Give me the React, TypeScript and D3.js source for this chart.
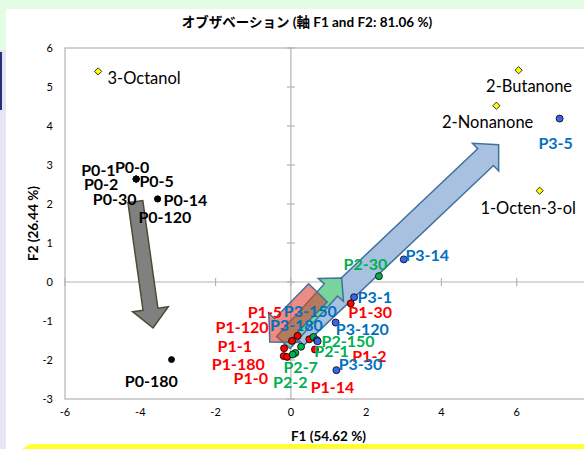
import React from "react";
import * as d3 from "d3";

// ---- data ----
const xTicks = [-6, -4, -2, 0, 2, 4, 6];
const yTicks = [-3, -2, -1, 0, 1, 2, 3, 4, 5, 6];

const p0Names = ["P0-0", "P0-1", "P0-2", "P0-5", "P0-30", "P0-14", "P0-120", "P0-180"];
const p0X = [-4.11, -4.11, -4.11, -4.11, -4.11, -3.54, -3.54, -3.17];
const p0Y = [2.64, 2.64, 2.64, 2.64, 2.64, 2.13, 2.13, -1.99];

const p1Names = ["P1-5", "P1-120", "P1-1", "P1-180", "P1-0", "P1-2", "P1-14", "P1-30"];
const p1X = [0.18, 0.03, -0.18, -0.19, -0.1, 0.64, 0.49, 1.59];
const p1Y = [-1.38, -1.51, -1.7, -1.9, -1.92, -1.73, -1.47, -0.55];

const p2Names = ["P2-30", "P2-150", "P2-1", "P2-7", "P2-2"];
const p2X = [2.34, 0.6, 0.27, 0.12, 0.05];
const p2Y = [0.15, -1.41, -1.66, -1.82, -1.86];

const p3Names = ["P3-5", "P3-14", "P3-1", "P3-120", "P3-30", "P3-150", "P3-180"];
const p3X = [7.14, 3.0, 1.68, 1.19, 1.21, 0.69, 0.71];
const p3Y = [4.19, 0.58, -0.39, -1.04, -2.26, -1.49, -1.52];

const varNames = ["3-Octanol", "2-Butanone", "2-Nonanone", "1-Octen-3-ol"];
const varX = [-5.12, 6.05, 5.46, 6.61];
const varY = [5.4, 5.43, 4.52, 2.34];

// trend arrows (data units): from -> to  (P0 gray, P3 blue, P2 green, P1 red)
const arrowFromX = [-4.13, 0.13, -0.2, 0.72];
const arrowFromY = [2.06, -1.41, -1.55, -0.28];
const arrowToX = [-3.66, 5.52, 1.35, -0.56];
const arrowToY = [-1.18, 3.52, 0.1, -1.54];

// ---- layout / style ----
const labelOffsets: Record<string, [number, number]> = {
  "P0-0": [-4, -12.6], "P0-1": [-37.7, -9.3], "P0-5": [20.5, 1.7], "P0-2": [-35, 4.7],
  "P0-30": [-21.5, 19.7], "P0-14": [27.8, 0.7], "P0-120": [7.3, 17.7], "P0-180": [-20.2, 20.7],
  "P1-5": [-32.7, -24], "P1-120": [-50, -14.7], "P1-1": [-49.3, -2.6], "P1-180": [-45.4, 7],
  "P1-0": [-36.3, 21], "P1-2": [54.5, 5.7], "P1-14": [23.2, 46.7], "P1-30": [19.5, 7.7],
  "P2-30": [-13.5, -13], "P2-150": [34.6, 3.7], "P2-1": [30.5, 4], "P2-7": [5.3, 13.3], "P2-2": [-2.5, 26.7],
  "P3-5": [-4, 24], "P3-14": [23.5, -5.3], "P3-1": [20.7, -0.6], "P3-120": [26.6, 6], "P3-30": [24.1, -7],
  "P3-150": [-6.5, -29.3], "P3-180": [-21.2, -16.7],
  "3-Octanol": [46, 7], "2-Butanone": [10.5, 15.3], "2-Nonanone": [-8.7, 16], "1-Octen-3-ol": [-11.5, 17],
};

const groups = [
  { names: p0Names, xs: p0X, ys: p0Y, fill: "#000000", text: "#000000", r: 3 },
  { names: p1Names, xs: p1X, ys: p1Y, fill: "#ff0000", text: "#ff0000", r: 3.5 },
  { names: p2Names, xs: p2X, ys: p2Y, fill: "#00b050", text: "#00b050", r: 3.5 },
  { names: p3Names, xs: p3X, ys: p3Y, fill: "#3a66e6", text: "#0070c0", r: 3.5 },
];

const arrowStyles = [
  { fill: "#808080", stroke: "#4e4b33", opacity: 1, sw: 15, hw: 36, hl: 19 },
  { fill: "#a9c1e0", stroke: "#41719c", opacity: 1, sw: 23, hw: 38, hl: 18 },
  { fill: "#78d49c", stroke: "#41719c", opacity: 1, sw: 18, hw: 34, hl: 16 },
  { fill: "#e0402f", stroke: "#41719c", opacity: 0.6, sw: 26, hw: 42, hl: 20 },
];

const W = 584, H = 449;
const x = d3.scaleLinear().domain([-6, 8]).range([65, 592]);
const y = d3.scaleLinear().domain([-3, 6]).range([399, 48]);

function arrowPath(x0: number, y0: number, x1: number, y1: number, sw: number, hw: number, hl: number) {
  const dx = x1 - x0, dy = y1 - y0, len = Math.hypot(dx, dy);
  const ux = dx / len, uy = dy / len, nx = -uy, ny = ux;
  const bx = x1 - ux * hl, by = y1 - uy * hl;
  const pts: [number, number][] = [
    [x0 + nx * sw / 2, y0 + ny * sw / 2],
    [bx + nx * sw / 2, by + ny * sw / 2],
    [bx + nx * hw / 2, by + ny * hw / 2],
    [x1, y1],
    [bx - nx * hw / 2, by - ny * hw / 2],
    [bx - nx * sw / 2, by - ny * sw / 2],
    [x0 - nx * sw / 2, y0 - ny * sw / 2],
  ];
  return d3.line()(pts) + "Z";
}

const FONT = "Lato, 'Noto Sans CJK JP', sans-serif";

export default function App() {
  const x0 = x(0), y0 = y(0);
  return (
    <svg width={W} height={H} style={{ position: "absolute", left: 0, top: 0 }} fontFamily={FONT}>
      <rect x={0} y={0} width={W} height={H} fill="#e4fbe4" />
      <rect x={0} y={50} width={6} height={H - 50} fill="#e6e6f2" />
      <rect x={0} y={52} width={2} height={58} fill="#26307a" />
      <rect x={6} y={9} width={W - 6} height={H - 9} fill="#ffffff" />
      <polygon points={`22,449 30,444 ${W},444 ${W},449`} fill="#ffff33" />

      <text x={307} y={27} textAnchor="middle" fontSize={13.5} fontWeight="bold" fill="#000">
        オブザベーション (軸 F1 and F2: 81.06 %)
      </text>

      {/* frame */}
      <rect x={x(-6)} y={y(6)} width={x(8) - x(-6)} height={y(-3) - y(6)} fill="none" stroke="#b3b3b3" strokeWidth={1.2} />
      {/* zero axes */}
      <line x1={x(-6)} x2={x(8)} y1={y0} y2={y0} stroke="#b3b3b3" strokeWidth={1.2} />
      <line x1={x0} x2={x0} y1={y(6)} y2={y(-3)} stroke="#b3b3b3" strokeWidth={1.2} />
      {xTicks.map((t) => (
        <line key={"xt" + t} x1={x(t)} x2={x(t)} y1={y0 - 4} y2={y0 + 4} stroke="#b3b3b3" strokeWidth={1.2} />
      ))}
      {yTicks.map((t) => (
        <line key={"yt" + t} x1={x0 - 4} x2={x0 + 4} y1={y(t)} y2={y(t)} stroke="#b3b3b3" strokeWidth={1.2} />
      ))}
      {xTicks.map((t) => (
        <text key={"xl" + t} x={x(t)} y={416} textAnchor="middle" fontSize={11} fill="#000">{t}</text>
      ))}
      {yTicks.map((t) => (
        <text key={"yl" + t} x={53} y={y(t) + 4} textAnchor="end" fontSize={11} fill="#000">{t}</text>
      ))}
      <text x={328.5} y={441} textAnchor="middle" fontSize={13.5} fontWeight="bold">F1 (54.62 %)</text>
      <text transform={`translate(38,${(y(6) + y(-3)) / 2}) rotate(-90)`} textAnchor="middle" fontSize={13.5} fontWeight="bold">
        F2 (26.44 %)
      </text>

      {/* arrows */}
      {arrowFromX.map((_, i) => {
        const s = arrowStyles[i];
        return (
          <path key={"ar" + i}
            d={arrowPath(x(arrowFromX[i]), y(arrowFromY[i]), x(arrowToX[i]), y(arrowToY[i]), s.sw, s.hw, s.hl)}
            fill={s.fill} fillOpacity={s.opacity} stroke={s.stroke} strokeWidth={1.5} strokeLinejoin="miter" />
        );
      })}

      {/* variables */}
      {varNames.map((n, i) => {
        const cx = x(varX[i]), cy = y(varY[i]);
        return (
          <path key={"v" + n} d={`M${cx},${cy - 3.6}L${cx + 3.6},${cy}L${cx},${cy + 3.6}L${cx - 3.6},${cy}Z`}
            fill="#ffff00" stroke="#000" strokeWidth={0.8} />
        );
      })}
      {groups.map((g) =>
        g.names.map((n, i) => (
          <circle key={"c" + n} cx={x(g.xs[i])} cy={y(g.ys[i])} r={g.r} fill={g.fill} stroke="#000" strokeWidth={0.8} />
        ))
      )}

      {/* labels */}
      {varNames.map((n, i) => {
        const [dx, dy] = labelOffsets[n];
        return (
          <text key={"vl" + n} x={x(varX[i]) + dx} y={y(varY[i]) + dy} textAnchor="middle" dominantBaseline="central"
            fontSize={16.5} fill="#000">{n}</text>
        );
      })}
      {groups.map((g) =>
        g.names.map((n, i) => {
          const [dx, dy] = labelOffsets[n];
          return (
            <text key={"l" + n} x={x(g.xs[i]) + dx} y={y(g.ys[i]) + dy} textAnchor="middle" dominantBaseline="central"
              fontSize={16} fontWeight="bold" fill={g.text}>{n}</text>
          );
        })
      )}
    </svg>
  );
}
